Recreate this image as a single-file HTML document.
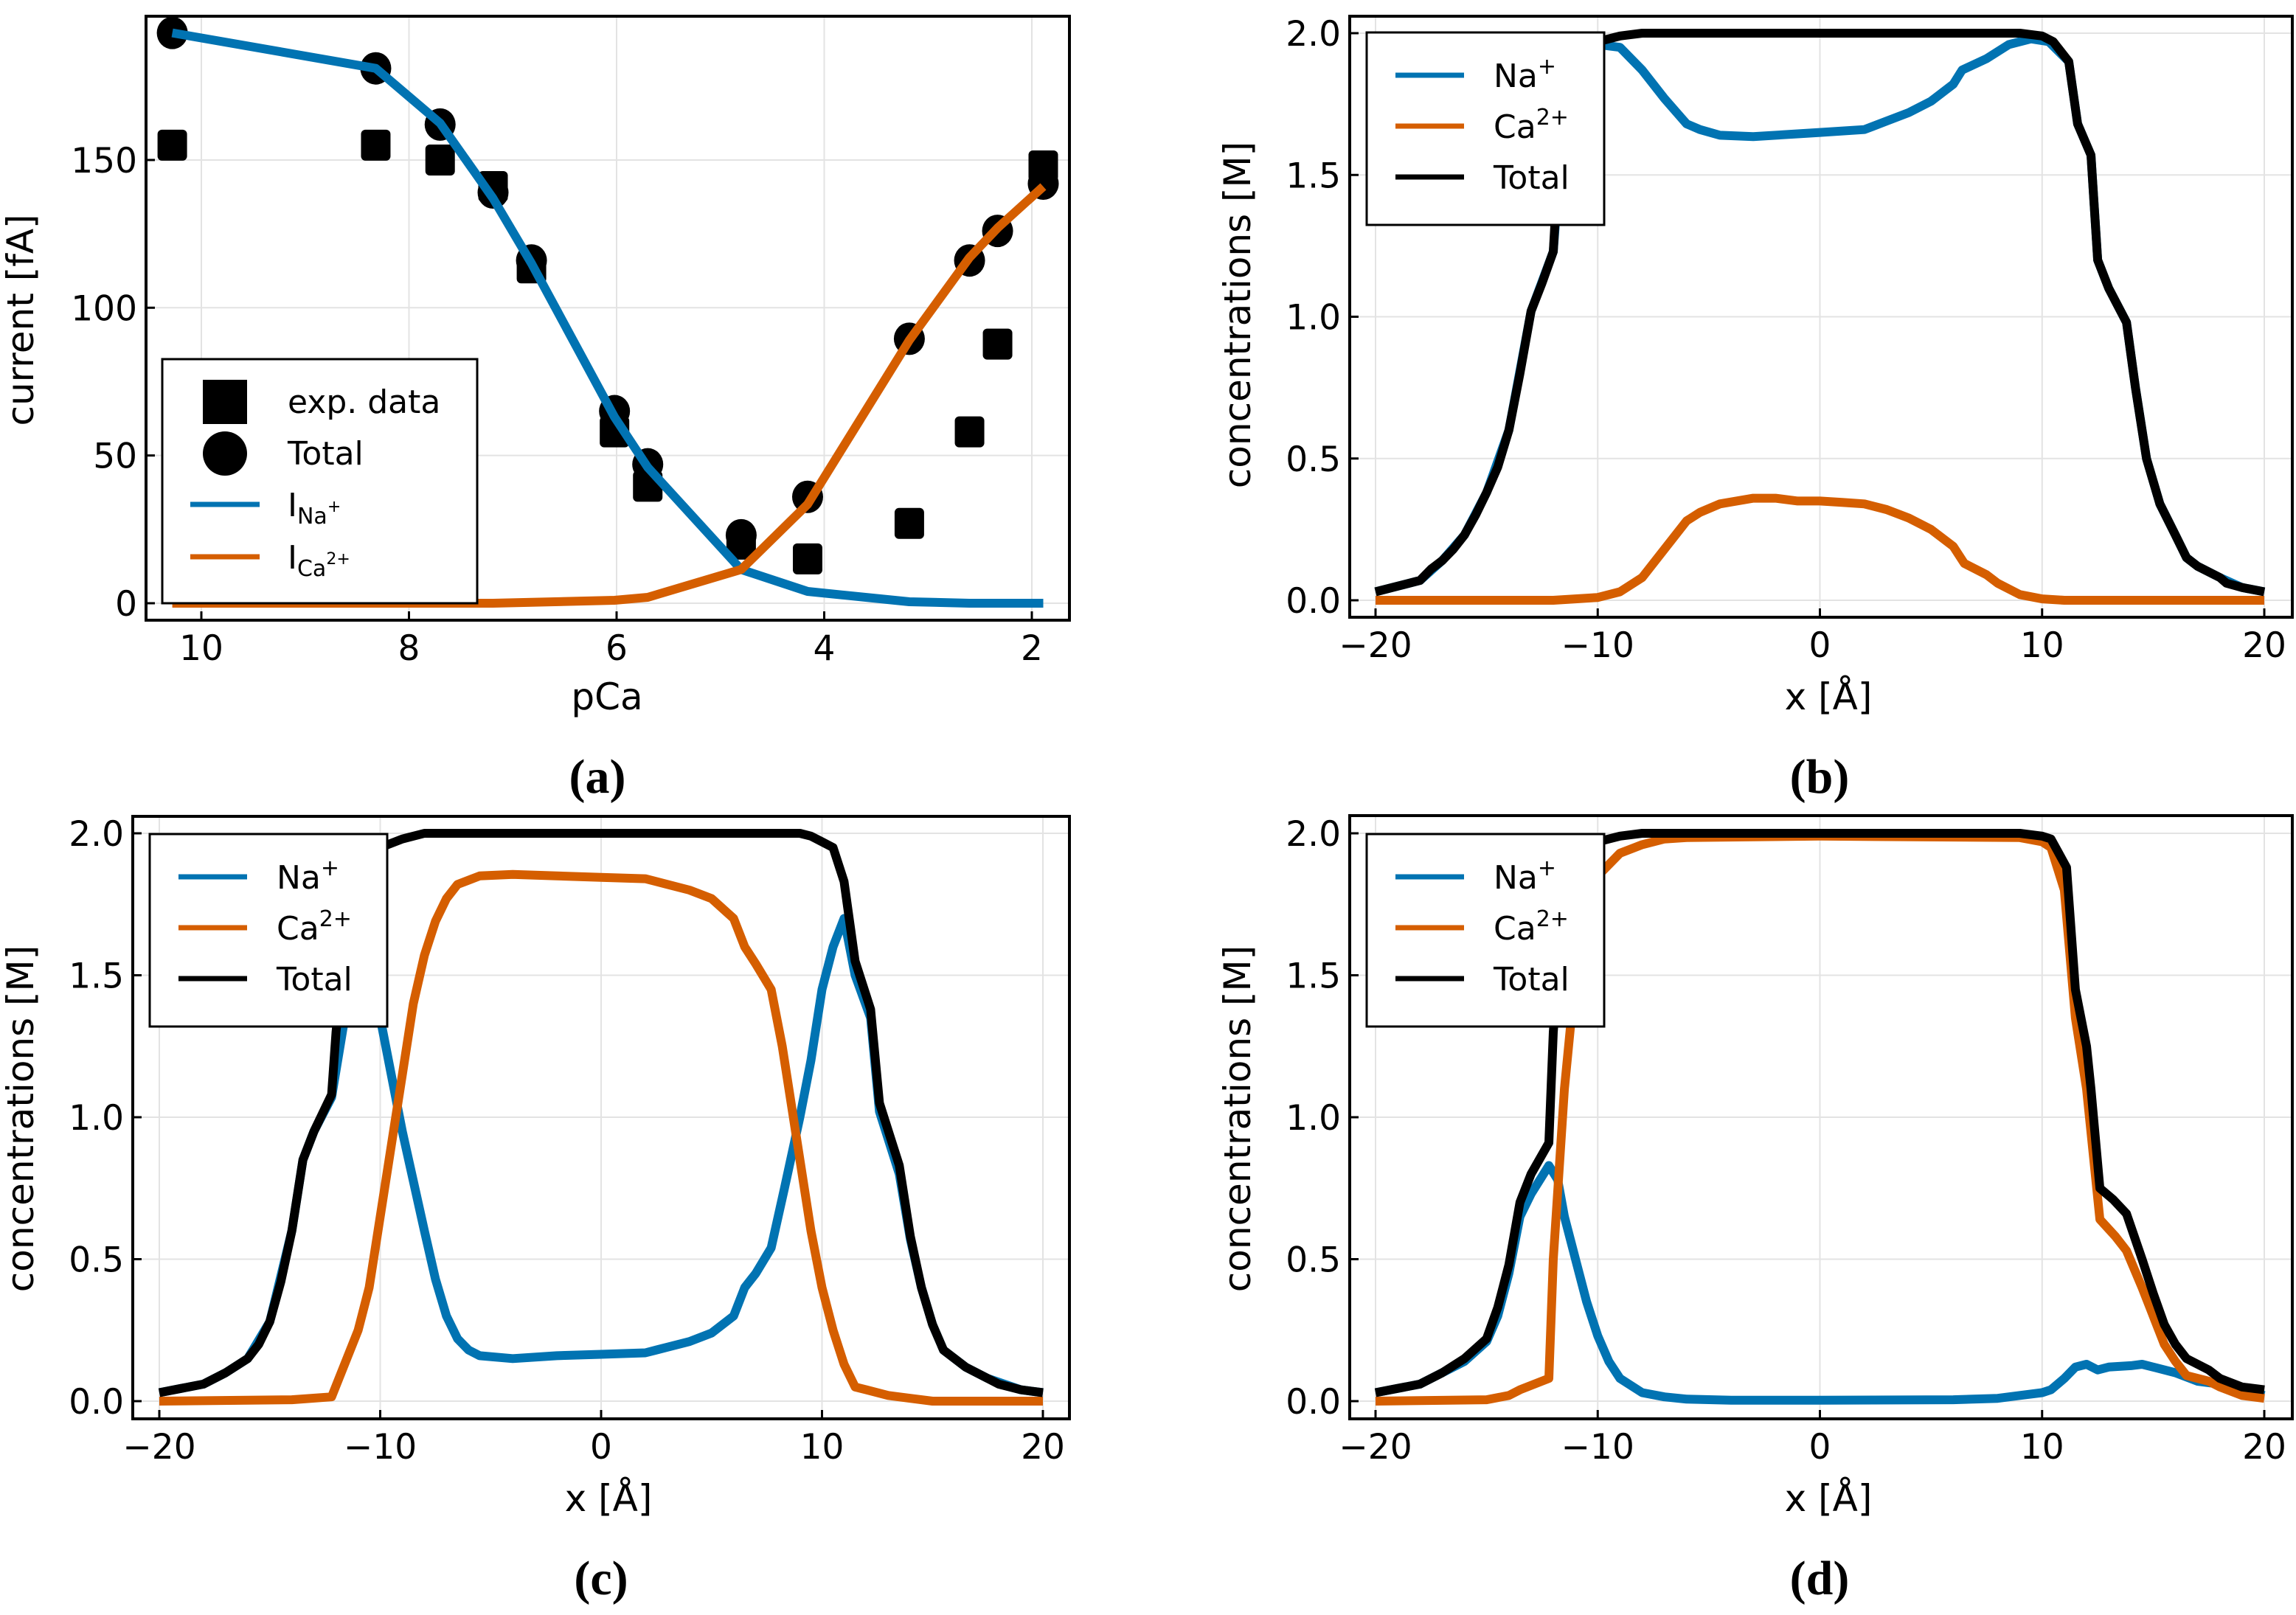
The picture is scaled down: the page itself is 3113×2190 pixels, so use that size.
<!DOCTYPE html>
<html><head><meta charset="utf-8"><style>
html,body{margin:0;padding:0;background:#fff;}
svg{display:block;}
text{font-family:"DejaVu Sans","Liberation Sans",sans-serif;fill:#000;}
text.plabel{font-family:"Liberation Serif",serif;font-weight:bold;}
</style></head><body>
<svg id="fig" xmlns="http://www.w3.org/2000/svg" width="3113" height="2190" viewBox="0 0 3113 2190"></svg>
<script>
// ---------- Panel (a) data ----------
const pCa = [10.28, 8.32, 7.70, 7.19, 6.82, 6.02, 5.70, 4.80, 4.16, 3.18, 2.60, 2.33, 1.89];
const aNa = [193, 181, 162.5, 137, 115, 63, 46, 11.4, 4, 0.5, 0, 0, 0];
const aCa = [0, 0, 0, 0, 0.3, 1, 2, 11.4, 33.5, 89, 117, 127, 141];
const aExp = [155, 155, 150, 141, 113.5, 58, 39.6, 20, 15, 27, 58, 87.7, 148];
const aTot = [193, 181, 162, 139, 116, 65, 47, 23, 36, 89.5, 116, 126, 142];
const aXTicks = [10, 8, 6, 4, 2];
const aYTicks = [0, 50, 100, 150];
// ---------- Concentration panels shared ticks ----------
const cXTicks = [-20, -10, 0, 10, 20];
const cYTicks = [0.0, 0.5, 1.0, 1.5, 2.0];
// ---------- Panel (b) ----------
const bTotX = [-20,-19,-18,-17.5,-17,-16.5,-16,-15.5,-15,-14.5,-14,-13.5,-13,-12.5,-12,-11.8,-11.5,-11,-10.5,-10,-9,-8,-6,0,6,8,9,10,10.5,11.2,11.6,12.2,12.5,13,13.8,14.2,14.7,15.3,16,16.5,17,18,18.3,19,20];
const bTot  = [0.03,0.05,0.07,0.11,0.14,0.18,0.23,0.3,0.38,0.47,0.6,0.8,1.02,1.12,1.23,1.5,1.75,1.9,1.95,1.97,1.99,2.0,2.0,2.0,2.0,2.0,2.0,1.99,1.97,1.9,1.68,1.57,1.2,1.1,0.98,0.75,0.5,0.34,0.23,0.15,0.12,0.08,0.06,0.045,0.03];
const bNaX = [-20,-19,-18,-17,-16,-15,-14,-13,-12,-11.5,-11,-10.5,-10,-9,-8,-7,-6,-5.4,-4.5,-3,-1,0,2,3,4,5,6,6.4,7.5,8.5,9.5,10.3,11.2,11.6,12.2,12.5,13,13.8,14.2,14.7,15.3,16,16.5,17,18,19,20];
const bNa  = [0.03,0.05,0.07,0.14,0.23,0.38,0.6,1.02,1.23,1.75,1.9,1.94,1.96,1.95,1.87,1.77,1.68,1.66,1.64,1.635,1.645,1.65,1.66,1.69,1.72,1.76,1.82,1.87,1.91,1.96,1.98,1.97,1.9,1.68,1.57,1.2,1.1,0.98,0.75,0.5,0.34,0.23,0.15,0.12,0.08,0.045,0.03];
const bCaX = [-20,-12,-11,-10,-9,-8,-7,-6,-5.4,-4.5,-3,-2,-1,0,1,2,3,4,5,6,6.5,7.5,8,9,10,11,20];
const bCa  = [0,0,0.005,0.01,0.03,0.08,0.18,0.28,0.31,0.34,0.36,0.36,0.35,0.35,0.345,0.34,0.32,0.29,0.25,0.19,0.13,0.09,0.06,0.02,0.005,0,0];
// ---------- Panel (c) ----------
const cTotX = [-20,-19,-18,-17,-16,-15.5,-15,-14.5,-14,-13.5,-13,-12.2,-12,-11.6,-11,-10,-9,-8,0,8,9,9.5,10,10.5,11,11.5,12.2,12.6,13.5,14,14.5,15,15.5,16.5,17.5,18,19,20];
const cTot  = [0.03,0.045,0.06,0.1,0.15,0.2,0.28,0.42,0.6,0.85,0.95,1.08,1.3,1.6,1.85,1.95,1.98,2.0,2.0,2.0,2.0,1.99,1.97,1.95,1.83,1.55,1.38,1.05,0.83,0.58,0.4,0.27,0.18,0.12,0.08,0.06,0.04,0.03];
const cNaX = [-20,-19,-18,-17,-16,-15,-14,-13.5,-13,-12.2,-11.5,-11,-10,-9,-8,-7.5,-7,-6.5,-6,-5.5,-4,-2,0,2,3,4,5,6,6.5,7,7.7,8.3,9,9.5,10,10.5,11,11.5,12.2,12.6,13.5,14,14.5,15,15.5,16.5,17.5,19,20];
const cNa  = [0.03,0.045,0.06,0.1,0.15,0.28,0.6,0.85,0.95,1.07,1.4,1.6,1.35,0.95,0.6,0.43,0.3,0.22,0.18,0.16,0.15,0.16,0.165,0.17,0.19,0.21,0.24,0.3,0.4,0.45,0.54,0.75,1.0,1.2,1.45,1.6,1.7,1.5,1.35,1.02,0.8,0.57,0.4,0.27,0.18,0.12,0.08,0.04,0.03];
const cCaX = [-20,-14,-12.2,-11,-10.5,-10,-9.5,-9,-8.5,-8,-7.5,-7,-6.5,-5.5,-4,-2,0,2,3,4,5,6,6.5,7,7.7,8.2,8.7,9.5,10,10.5,11,11.5,12,13,14,15,20];
const cCa  = [0,0.005,0.015,0.25,0.4,0.65,0.9,1.15,1.4,1.57,1.69,1.77,1.82,1.85,1.855,1.85,1.845,1.84,1.82,1.8,1.77,1.7,1.6,1.54,1.45,1.25,1.0,0.6,0.4,0.25,0.13,0.05,0.04,0.02,0.01,0,0];
// ---------- Panel (d) ----------
const dTotX = [-20,-19,-18,-17,-16,-15,-14.5,-14,-13.5,-13,-12.2,-12,-11.6,-11,-10,-9,-8,0,9,10,10.4,11.1,11.5,12,12.2,12.6,13.2,13.8,14.5,15,15.5,16,16.5,17.5,18,19,20];
const dTot  = [0.03,0.045,0.06,0.1,0.15,0.22,0.33,0.48,0.7,0.8,0.91,1.3,1.7,1.93,1.97,1.99,2.0,2.0,2.0,1.99,1.98,1.88,1.45,1.25,1.1,0.75,0.71,0.66,0.5,0.38,0.27,0.2,0.15,0.11,0.08,0.05,0.04];
const dNaX = [-20,-18,-16,-15,-14.5,-14,-13.5,-13,-12.2,-11.8,-11.5,-11,-10.5,-10,-9.5,-9,-8,-7,-6,-4,0,6,8,9,10,10.4,11,11.5,12,12.5,13,14,14.5,15,16,17,18,19,20];
const dNa  = [0.03,0.06,0.14,0.21,0.3,0.45,0.65,0.73,0.83,0.78,0.65,0.5,0.35,0.23,0.14,0.08,0.03,0.015,0.007,0.003,0.003,0.005,0.01,0.02,0.03,0.04,0.08,0.12,0.13,0.11,0.12,0.125,0.13,0.12,0.1,0.07,0.06,0.04,0.02];
const dCaX = [-20,-15,-14,-13.5,-12.2,-12,-11.5,-11,-10.5,-10,-9,-8,-7,-6,0,9,10,10.4,11,11.5,12,12.6,13.3,13.8,14.5,15,15.5,16,16.5,17.5,18,19,20];
const dCa  = [0,0.005,0.02,0.04,0.08,0.5,1.1,1.5,1.75,1.85,1.93,1.96,1.98,1.985,1.99,1.985,1.97,1.95,1.8,1.35,1.1,0.64,0.58,0.53,0.4,0.3,0.2,0.14,0.09,0.07,0.05,0.02,0.01];

const NS = "http://www.w3.org/2000/svg";
const svg = document.getElementById('fig');
const BLUE = "#0173b2", ORANGE = "#d55e00";
function mk(tag, attrs, parent){
  const e = document.createElementNS(NS, tag);
  for (const k in attrs) e.setAttribute(k, attrs[k]);
  (parent||svg).appendChild(e);
  return e;
}
function fmt(v, dec){ const s = v.toFixed(dec); return s.replace('-', '\u2212'); }

function axesFrame(g, P, xTicks, yTicks){
  xTicks.forEach(t=>{
    const l = mk('line',{x1:P.sx(t),x2:P.sx(t),y1:P.top,y2:P.bottom,stroke:'#e3e3e3','stroke-width':2},g);
    
    
  });
  yTicks.forEach(t=>{
    const l = mk('line',{x1:P.left,x2:P.right,y1:P.sy(t),y2:P.sy(t),stroke:'#e3e3e3','stroke-width':2},g);
    
    
  });
}
function axesTop(g, P, xTicks, yTicks, xDec, yDec){
  const fr = mk('rect',{x:P.left,y:P.top,width:P.right-P.left,height:P.bottom-P.top,fill:'none',stroke:'#000','stroke-width':4},g);
  
  
  xTicks.forEach(t=>{
    const x = P.sx(t);
    const tk = mk('line',{x1:x,x2:x,y1:P.bottom,y2:P.bottom-12,stroke:'#000','stroke-width':3},g);
    
    
    const tl = mk('text',{x:x,y:P.bottom+54,'font-size':47,'text-anchor':'middle'},g);
    tl.textContent = fmt(t,xDec);
    
    
  });
  yTicks.forEach(t=>{
    const y = P.sy(t);
    const tk = mk('line',{x1:P.left,x2:P.left+12,y1:y,y2:y,stroke:'#000','stroke-width':3},g);
    
    
    const tl = mk('text',{x:P.left-12,y:y+17,'font-size':47,'text-anchor':'end'},g);
    tl.textContent = fmt(t,yDec);
    
    
  });
}
function line(g, P, xs, ys, color, name){
  const d = xs.map((x,i)=>(i?'L':'M')+P.sx(x).toFixed(1)+','+P.sy(ys[i]).toFixed(1)).join(' ');
  const p = mk('path',{d:d,fill:'none',stroke:color,'stroke-width':12,'stroke-linejoin':'round','stroke-linecap':'butt'},g);
  
  
}
function label(x,y,txt,size,name,rot,cls){
  const t = mk('text',{x:x,y:y,'font-size':size,'text-anchor':'middle'});
  if (cls) t.setAttribute('class',cls);
  if (rot) t.setAttribute('transform','rotate(-90 '+x+' '+y+')');
  t.textContent = txt;
  
  
  return t;
}

// ================= Panel (a) =================
const PA = {left:198,right:1450,top:22,bottom:841, sx:v=>273+(10-v)*140.75, sy:v=>818-v*4.007};
const gA = mk('g',{});


axesFrame(gA, PA, aXTicks, aYTicks);
pCa.forEach((x,i)=>{
  const s = mk('rect',{x:PA.sx(x)-20,y:PA.sy(aExp[i])-21,width:40,height:42,rx:6,fill:'#000'},gA);
  
  
});
pCa.forEach((x,i)=>{
  const c = mk('ellipse',{cx:PA.sx(x),cy:PA.sy(aTot[i]),rx:21,ry:22,fill:'#000'},gA);
  
  
});
line(gA, PA, pCa, aNa, BLUE, 'na-current-line');
line(gA, PA, pCa, aCa, ORANGE, 'ca-current-line');
axesTop(gA, PA, aXTicks, aYTicks, 0, 0);
const lgA = mk('g',{});


mk('rect',{x:220,y:487,width:427,height:331,fill:'#fff',stroke:'#000','stroke-width':3},lgA);
mk('rect',{x:275,y:515,width:60,height:60,fill:'#000'},lgA);
mk('circle',{cx:305,cy:615,r:30,fill:'#000'},lgA);
mk('line',{x1:258,x2:352,y1:684,y2:684,stroke:BLUE,'stroke-width':7},lgA);
mk('line',{x1:258,x2:352,y1:755,y2:755,stroke:ORANGE,'stroke-width':7},lgA);
let t = mk('text',{x:390,y:560,'font-size':44},lgA); t.textContent='exp. data';
t = mk('text',{x:390,y:630,'font-size':44},lgA); t.textContent='Total';
t = mk('text',{x:390,y:700,'font-size':44},lgA); t.textContent='I';
let ts = mk('tspan',{'font-size':30,dy:10},t); ts.textContent='Na';
ts = mk('tspan',{'font-size':22,dy:-16},t); ts.textContent='+';
t = mk('text',{x:390,y:771,'font-size':44},lgA); t.textContent='I';
ts = mk('tspan',{'font-size':30,dy:10},t); ts.textContent='Ca';
ts = mk('tspan',{'font-size':22,dy:-16},t); ts.textContent='2+';
label(45,434,'current [fA]',50,'y-axis-title-a',true);
label(823,962,'pCa',50,'x-axis-title-a');
label(810,1075,'(a)',66,'panel-label-a',false,'plabel');

// ================= concentration panels =================
function concPanel(P, name, nx, ny, cx, cy, tx, ty, lg, lx, ax, ay, plx, ply, letter){
  const g = mk('g',{});
  
  
  axesFrame(g, P, cXTicks, cYTicks);
  line(g, P, nx, ny, BLUE, 'na-concentration-line');
  line(g, P, cx, cy, ORANGE, 'ca-concentration-line');
  line(g, P, tx, ty, '#000', 'total-concentration-line');
  axesTop(g, P, cXTicks, cYTicks, 0, 1);
  const L = mk('g',{},g);
  
  
  mk('rect',{x:lg.x,y:lg.y,width:322,height:261,fill:'#fff',stroke:'#000','stroke-width':3},L);
  const rows = [[BLUE,'Na','+'],[ORANGE,'Ca','2+'],['#000','Total','']];
  rows.forEach((r,i)=>{
    const y = lg.y+58+i*69;
    mk('line',{x1:lx,x2:lx+93,y1:y,y2:y,stroke:r[0],'stroke-width':7},L);
    const tt = mk('text',{x:lx+133,y:y+16,'font-size':44},L);
    tt.textContent = r[1];
    if (r[2]){ const s = mk('tspan',{'font-size':30,dy:-18},tt); s.textContent=r[2]; }
  });
  label(ax, ay, 'concentrations [M]', 50, 'y-axis-title', true);
  label((P.left+P.right)/2+10, P.bottom+125, 'x [Å]', 50, 'x-axis-title');
  label(plx, ply, letter, 66, 'panel-label', false, 'plabel');
}
const PB = {left:1830,right:3108,top:22,bottom:837, sx:v=>1865+(v+20)*30.125, sy:v=>814-v*384.5};
concPanel(PB,'panel-b',bNaX,bNa,bCaX,bCa,bTotX,bTot,{x:1853,y:44},1892,1695,427,2467,1075,'(b)');
const PC = {left:180,right:1450,top:1107,bottom:1924, sx:v=>216+(v+20)*29.95, sy:v=>1900-v*385};
concPanel(PC,'panel-c',cNaX,cNa,cCaX,cCa,cTotX,cTot,{x:203,y:1131},242,45,1517,815,2162,'(c)');
const PD = {left:1830,right:3108,top:1106,bottom:1924, sx:v=>1865+(v+20)*30.125, sy:v=>1900-v*385};
concPanel(PD,'panel-d',dNaX,dNa,dCaX,dCa,dTotX,dTot,{x:1853,y:1131},1892,1695,1517,2467,2162,'(d)');
</script>
</body></html>
